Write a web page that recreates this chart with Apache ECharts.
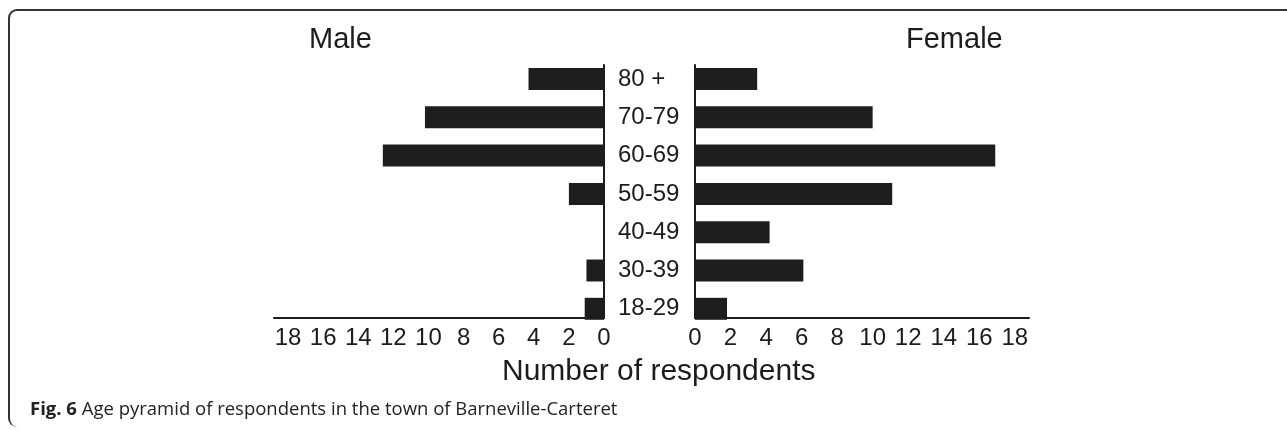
<!DOCTYPE html>
<html>
<head>
<meta charset="utf-8">
<script src="https://cdn.jsdelivr.net/npm/echarts@6/dist/echarts.min.js"></script>
<style>
  html, body { margin: 0; padding: 0; background: #fff; }
  #frame {
    position: absolute; left: 8px; top: 9px; width: 1300px; height: 416px;
    border-top: 2px solid #333; border-left: 2px solid #333;
    border-top-left-radius: 9px; border-bottom-left-radius: 9px;
  }
  #main { position: absolute; left: 0; top: 0; width: 1287px; height: 430px; }
</style>
</head>
<body>
<div id="frame"></div>
<div id="main"></div>
<script>
// age groups, top to bottom
const ageGroups = ["80 +", "70-79", "60-69", "50-59", "40-49", "30-39", "18-29"];
const maleCounts = [4.3, 10.2, 12.6, 2.0, 0, 1.0, 1.1];
const femaleCounts = [3.5, 10.0, 16.9, 11.1, 4.2, 6.1, 1.8];
const axisMax = 18.8;
const tickStep = 2;

const ink = "#1c1c1c";
const font = "'Liberation Sans', Arial, sans-serif";
const captionFont = "'Open Sans', sans-serif";

function evenLabel(v) {
  return Math.abs(v % tickStep) < 1e-6 ? String(v) : "";
}

const barsTop = 59.85, barsHeight = 268.1;
const frameTop = 65, frameHeight = 253;

let option = {
  animation: false,
  title: [
    { text: "Male", left: 309, top: 25, padding: 0, textStyle: { fontFamily: font, fontSize: 29, fontWeight: "normal", color: ink } },
    { text: "Female", left: 906, top: 25, padding: 0, textStyle: { fontFamily: font, fontSize: 29, fontWeight: "normal", color: ink } },
    { text: "Number of respondents", left: 502, top: 357, padding: 0, textStyle: { fontFamily: font, fontSize: 30, fontWeight: "normal", color: ink } },
    {
      text: "{b|Fig. 6} Age pyramid of respondents in the town of Barneville-Carteret",
      left: 30, top: 400, padding: 0,
      textStyle: {
        fontFamily: captionFont, fontSize: 18.5, fontWeight: "normal", color: "#222",
        rich: { b: { fontFamily: captionFont, fontSize: 18.5, fontWeight: "bold", color: "#222" } }
      }
    }
  ],
  grid: [
    { left: 274, width: 330, top: barsTop, height: barsHeight },
    { left: 695, width: 334, top: barsTop, height: barsHeight },
    { left: 274, width: 330, top: frameTop, height: frameHeight },
    { left: 695, width: 334, top: frameTop, height: frameHeight }
  ],
  xAxis: [
    { gridIndex: 0, type: "value", min: 0, max: axisMax, inverse: true, show: false },
    { gridIndex: 1, type: "value", min: 0, max: axisMax, show: false },
    {
      gridIndex: 2, type: "value", min: 0, max: axisMax, inverse: true, interval: tickStep,
      axisLine: { show: true, lineStyle: { color: ink, width: 2 } },
      axisTick: { show: false }, splitLine: { show: false },
      axisLabel: { margin: 8, fontFamily: font, fontSize: 24, color: ink, formatter: evenLabel }
    },
    {
      gridIndex: 3, type: "value", min: 0, max: axisMax, interval: tickStep,
      axisLine: { show: true, lineStyle: { color: ink, width: 2 } },
      axisTick: { show: false }, splitLine: { show: false },
      axisLabel: { margin: 8, fontFamily: font, fontSize: 24, color: ink, formatter: evenLabel }
    }
  ],
  yAxis: [
    {
      gridIndex: 0, type: "category", data: ageGroups, inverse: true, position: "right",
      axisLine: { show: false }, axisTick: { show: false },
      axisLabel: { margin: 14, align: "left", fontFamily: font, fontSize: 24, color: ink }
    },
    {
      gridIndex: 1, type: "category", data: ageGroups, inverse: true,
      axisLine: { show: false }, axisTick: { show: false }, axisLabel: { show: false }
    },
    {
      gridIndex: 2, type: "value", min: 0, max: 1, position: "right",
      axisLine: { show: true, lineStyle: { color: ink, width: 2 } },
      axisTick: { show: false }, axisLabel: { show: false }, splitLine: { show: false }
    },
    {
      gridIndex: 3, type: "value", min: 0, max: 1, position: "left",
      axisLine: { show: true, lineStyle: { color: ink, width: 2 } },
      axisTick: { show: false }, axisLabel: { show: false }, splitLine: { show: false }
    }
  ],
  series: [
    {
      name: "Male", type: "bar", xAxisIndex: 0, yAxisIndex: 0,
      barCategoryGap: "42.6%", itemStyle: { color: "#1e1e1e" },
      data: maleCounts
    },
    {
      name: "Female", type: "bar", xAxisIndex: 1, yAxisIndex: 1,
      barCategoryGap: "42.6%", itemStyle: { color: "#1e1e1e" },
      data: femaleCounts
    }
  ]
};

let myChart = echarts.init(document.getElementById("main"));
option && myChart.setOption(option);
</script>
</body>
</html>
